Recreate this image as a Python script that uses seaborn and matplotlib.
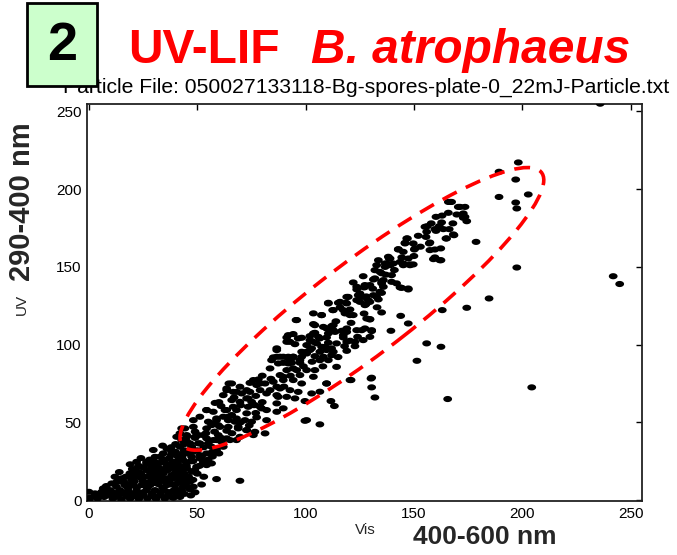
import numpy as np
import matplotlib
matplotlib.use("Agg")
import matplotlib.pyplot as plt
from matplotlib.path import Path
from matplotlib.patches import Ellipse, Rectangle
import seaborn as sns
import pandas as pd

# Particle fluorescence: (Vis 400-600 nm, UV 290-400 nm)
core_cluster = [
    (0, 0), (0, 1.3), (0, 5.3), (2, 2.1), (2.8, 4.3), (5.9, 5.3), (7.4, 6.4), (6.6, 7.5),
    (9.7, 6.4), (10.5, 10.7), (12.7, 8.6), (14.3, 6.4), (16.6, 9.6), (18.1, 6), (20.5, 9.6),
    (22, 6), (24.3, 9.6), (26.6, 6.4), (28.2, 9.6), (30.5, 6.4), (32, 10.3), (35.1, 6),
    (35.9, 9.6), (38.9, 6), (39.7, 9.6), (42.8, 6.4), (43.5, 8.6), (46.6, 6.9), (48.2, 8.6),
    (9.7, 3.2), (13.5, 3.2), (17.4, 2.6), (21.2, 2.6), (25.1, 3.2), (28.9, 2.6), (32.8, 3.2),
    (36.6, 3.2), (40.5, 4.3), (4, 1), (7, 2), (11, 1), (15, 0.5), (19, 1), (23, 0.8), (27, 1),
    (31, 0.8), (35, 1), (39, 1.5), (8, 9), (11, 5), (13, 12), (15.1, 14), (19.7, 12.9),
    (24.3, 14), (28.9, 13.3), (32.8, 12.9), (37.4, 12.9), (42, 12.9), (46.6, 11.8), (15.1, 11.8),
    (17, 15), (20, 16), (24, 17), (28, 16), (32, 15), (36, 14), (40, 18), (44, 17),
    (18.9, 17.2), (22.8, 21.4), (26.6, 19.3), (30.5, 18.2), (34.3, 17.2), (38.2, 16.1),
    (42.8, 16.1), (44.3, 14), (48.9, 19.3), (20, 20), (25, 21), (29, 21), (33, 20), (37, 20),
    (42, 22), (22, 24.6), (26.6, 24.6), (26.6, 23.6), (31.3, 22.5), (35.9, 21.4), (40.5, 20.4),
    (45.1, 20.4), (47.4, 18.2), (24, 27), (28, 26), (33, 24), (37, 27), (41, 28), (45, 24),
    (30.5, 27.8), (34.3, 30), (35.1, 25.7), (38.9, 24.6), (43.5, 25.7), (38.2, 31.1),
    (43.5, 30), (42, 34.3), (29.7, 32.2), (33, 28), (36, 33), (40, 36), (44, 32), (48, 31),
    (47.4, 27.8), (51.2, 28.9), (51.2, 26.8), (52.8, 24.6), (54.3, 22.5), (49.7, 21.4),
    (56.6, 23.6), (47.4, 34.3), (54.3, 30), (56.6, 34.3), (58.9, 32.2), (62, 34.3),
    (50.5, 36.5), (55.1, 36.5), (46.6, 36.5), (53, 34), (57, 28), (60, 30),
    (58.9, 13.5), (69.7, 12.4),
    (5, 3), (8, 4.5), (12, 2), (14, 5), (16, 4), (18, 8), (20, 4), (22, 8), (23, 3), (25, 5),
    (27, 8), (29, 4), (30, 11), (31, 2), (33, 5), (34, 8), (36, 11), (37, 5), (38, 2), (40, 7),
    (41, 11), (42, 2), (44, 4), (45, 9), (47, 3), (49, 5), (12, 15), (14, 18), (16, 12),
    (18, 10), (21, 12), (22, 15), (23, 18), (25, 12), (26, 15), (27, 11), (29, 18), (30, 15),
    (31, 12), (33, 17), (34, 14), (35, 12), (36, 19), (38, 10), (39, 14), (40, 22), (41, 16),
    (43, 19), (44, 11), (45, 22), (46, 15), (47, 25), (48, 13), (50, 17), (51, 22), (52, 10),
    (53, 15), (19, 23), (21, 19), (23, 22), (28, 23), (30, 25), (32, 21), (34, 26), (36, 23),
    (38, 29), (39, 22), (40, 31), (41, 25), (43, 28), (44, 36), (46, 30), (48, 25), (50, 32),
    (52, 28), (55, 26), (57, 31), (34, 35), (38, 34),
]

lower_band = [
    (40.5, 40.7), (45.1, 41.8), (48.9, 40.7), (52.8, 41.8), (58.9, 38.6), (63.6, 39.7),
    (68.1, 38.6), (42.8, 38.6), (42.8, 46.1), (48.2, 47.1), (54.3, 46.1), (59.7, 48.2),
    (64.3, 47.1), (68.9, 47.1), (72.8, 45), (76.6, 43.9), (55.1, 50.4), (51.2, 53.6),
    (54.3, 57.9), (58.9, 52.5), (64.3, 53.6), (68.1, 52.5), (63.6, 57.9), (68.1, 57.9),
    (72.8, 55.8), (82, 51.4), (79.7, 59), (75.9, 61.1), (73.5, 65.4), (69.7, 63.2),
    (65.9, 64.3), (62, 67.5), (63.6, 71.8), (65.9, 75), (68.1, 69.6), (72.8, 70.7),
    (75.9, 77.2), (79, 75), (82, 68.6), (87.4, 66.4), (86.7, 72.9), (45, 38), (49, 40),
    (44.3, 46.1), (45.1, 40.7), (50.5, 41.8), (54.3, 39.7), (51.2, 36.5), (57.4, 38.6),
    (61.2, 37.5), (65.1, 38.6), (69.7, 40.7), (48.2, 51.4), (56.6, 48.2), (60.5, 47.1),
    (68.9, 46.1), (72.8, 45), (63.6, 44.6), (81.3, 42.9), (75.9, 41.8), (42, 42.9),
    (54.3, 57.9), (57.4, 56.8), (62.8, 57.9), (66.6, 60), (65.9, 54.7), (62, 53.6),
    (58.9, 51.4), (64.3, 51.4), (67.4, 50.4), (72, 51.4), (75.1, 50.4), (77.4, 53.2),
    (72.8, 65.4), (75.1, 63.2), (76.6, 61.1), (79, 60), (73.5, 60), (82, 57.9),
    (86.7, 62.2), (89.7, 59), (86.7, 56.8), (64.6, 75), (69.7, 72.9), (74.3, 75.4),
    (77.4, 74), (81.3, 75), (63.6, 70.7), (66.6, 69.6), (70.5, 68.6), (74.3, 69.6),
    (79, 70.7), (83.6, 70.7), (88.2, 71.8), (92.8, 70.7), (96.6, 69.6), (86.7, 67.5),
    (91.3, 66.4), (95.1, 65.4), (56.6, 49.3), (59.7, 41.8), (47.4, 34.3), (52.8, 24.6),
    (99.7, 51), (106.6, 48.7), (100.5, 51.4), (58.2, 62.5), (61, 60.5),
    (61, 40), (58, 44), (54, 43), (49, 44), (66, 43), (70, 50), (74, 48), (77, 56), (70, 61),
    (60, 63), (67, 66), (77, 67), (80, 63), (84, 78), (80, 80), (90, 73), (93, 80),
]

mid_band = [
    (78.2, 77.6), (85.1, 76.1), (89.7, 77.2), (94.3, 77.2), (98.2, 75), (88.2, 80.4),
    (83.6, 84.7), (91.3, 83.6), (95.9, 83.6), (89.7, 88.3), (93.6, 88.3), (97.4, 88.3),
    (86.7, 92.2), (92, 92.2), (94.3, 92.2), (98.2, 92.2), (100.5, 94.3), (91.3, 101.8),
    (95.1, 100.3), (84.3, 90), (87.4, 87.9), (92, 87.9), (89.7, 79.3), (97.4, 80.4),
    (103.6, 79.3), (109.7, 75), (120.5, 77.2), (100.5, 83.6), (104.3, 83.6), (94.3, 84.7),
    (97.4, 90), (93.6, 91.1), (89.7, 92.2), (86.7, 96.5), (98.2, 95.4), (102, 96.5),
    (106.6, 95.4), (112.8, 95.4), (112, 97.6), (109, 98.6), (105.1, 100.8), (102, 102.9),
    (106.6, 104), (103.6, 107.2), (110.5, 107.2), (112.8, 109.3), (117.4, 106.1),
    (119, 101.8), (122.8, 101.8), (126.6, 102.9), (129.7, 105), (96.6, 104), (92, 106.1),
    (95.9, 115.8), (103.6, 120.1), (107.4, 119), (112.8, 122.2), (117.4, 122.2), (122, 119),
    (128.2, 116.8), (130.5, 109.3), (127.4, 110.4), (123.6, 109.3), (119, 110.4),
    (112.8, 112.5), (108.2, 111.4), (104.3, 112.5), (110.5, 126.5), (115.1, 126.9),
    (119, 126.5), (119, 130.7), (123.6, 128.6), (127.4, 125.4), (106.6, 90), (110.5, 90),
    (114.3, 85.7), (85.1, 91.8), (88.2, 92.2), (92, 91.1), (94.3, 106.8), (102, 105.5),
    (105.9, 105), (109.7, 104.6), (91.3, 104.6), (98.2, 104.4), (117.4, 104.6),
    (120.5, 102.5), (103.6, 101.8), (92.8, 101.8), (110.5, 101.2), (114.3, 100.8),
    (100.5, 99.7), (107.4, 98.6), (102.8, 97.6), (122.8, 99), (86.7, 97.6), (109.7, 96.5),
    (119, 96), (100.5, 95.4), (94.3, 92.2), (104.3, 92.6), (108.2, 92.2), (112, 93.2),
    (95.6, 115.8), (103.6, 113.2), (129.7, 116.2), (112, 111.9), (109.7, 110.4),
    (116.7, 108.9), (113.6, 108.2), (119, 108.2), (125.9, 109.3), (130.5, 108.7),
    (104.3, 107.6), (107.4, 119), (110.5, 126.9), (115.9, 123.9), (112.5, 122.2),
    (120.5, 122.6), (118.2, 120.1), (120.5, 119), (115.9, 127.5), (118.7, 126.9),
    (129.7, 116.4), (135.1, 120.7), (143.9, 118.5), (147.4, 113.6), (139.4, 108.9),
    (130.5, 78.7), (130.5, 72.5), (132, 66), (121, 77.2), (111.7, 63.7), (113.3, 60.5),
    (99.7, 63.7), (102.8, 68.6), (106.6, 69.7), (109.7, 75), (130.2, 78.2),
    (99, 86), (103, 89), (108, 86), (115, 92), (118, 99), (124, 105), (114, 115), (121, 114),
    (127, 120), (133, 124),
]

upper_band = [
    (133.6, 154.3), (132.8, 151.1), (136.7, 150), (132, 147.9), (135.1, 145.9),
    (126.6, 144), (131.3, 141.9), (135.9, 141.5), (129.7, 138.3), (127, 136.8),
    (123.6, 135.5), (135.9, 137.2), (124.3, 131.8), (126.6, 130.7), (128.9, 128.6),
    (125.1, 127.5), (127.9, 126), (119.7, 130.7), (123.6, 137.2), (127.4, 138.3),
    (131.3, 131.8), (125.1, 132.9), (127.4, 137.2), (135.1, 139.4), (139.7, 140.4),
    (142, 139.4), (143.6, 136.8), (147.4, 135.5), (129.7, 127.5), (132.8, 130.7),
    (133.6, 129.1), (135.1, 133.3), (134.3, 146.8), (132, 142.6), (135.1, 140.4),
    (139.7, 144.7), (144.4, 136.5), (147.4, 136.1), (134.3, 134), (139, 151.1),
    (138.2, 156.5), (139, 155.4), (136.7, 152.2), (145.1, 152.2), (148.2, 151.6),
    (149.7, 151.6), (142.8, 161.4), (145.9, 165.5), (146.7, 168.3), (150.5, 161.9),
    (138.6, 155.4), (137.4, 152.2), (140.5, 152.2), (143.6, 153.2), (145.1, 151.1),
    (148.2, 151.1), (144.4, 156.1), (147.4, 155.4), (145.1, 159.7), (142.8, 161.2),
    (150.2, 161.2), (147, 168.3), (145.9, 165.1), (149.7, 165.1), (157.4, 160.8),
    (159.7, 161.2), (162.4, 161.9), (159.7, 156.1), (162, 154.3), (159, 155),
    (162.5, 154.3), (155.6, 169.3), (157.4, 165.7), (157.1, 165.1), (165.1, 168.3),
    (168.5, 170.4), (164.8, 168.3), (168.2, 170.9), (155.9, 172.6), (160.2, 173.2),
    (155.1, 175.8), (156.2, 176.2), (159.7, 174.3), (163.6, 174.3), (166.3, 174.3),
    (161.7, 176.2), (162.8, 178.6), (160.2, 182.2), (165.9, 184.8), (169.8, 183.7),
    (172.8, 184.4), (173.6, 182.2), (174.4, 179.4), (172.8, 181.6), (171.3, 188.6),
    (173.6, 188.6), (170.5, 188.6), (166.7, 191.8), (165.9, 191.8), (167.4, 191.8),
    (178.7, 166.1), (189.3, 211.2), (198.2, 217.2), (197, 206.2), (202.8, 196.6),
    (189.3, 195), (197, 191.4), (197.5, 187.6), (197.5, 149.6),
    (128, 131), (131, 136), (122, 140), (137, 145), (141, 148), (150, 157), (153, 163),
    (152, 170), (158, 178), (163, 183), (168, 178),
]

outliers = [
    (236, 255), (242, 144), (245, 139), (204.4, 72.5), (165.6, 65), (155.9, 100.8),
    (162.5, 98.6), (151.4, 89.6), (174.4, 123.7), (184.7, 129.7), (163.1, 122.2),
]

# Dashed gate drawn around the main spore population
gate_center = (126, 123)
gate_width = 242
gate_height = 52
gate_angle = 47.5

x_ticks = [0, 50, 100, 150, 200, 250]
y_ticks = [0, 50, 100, 150, 200, 250]

groups = [core_cluster, lower_band, mid_band, upper_band, outliers]
points = [p for g in groups for p in g]
df = pd.DataFrame(points, columns=["Vis", "UV"])

sns.set_theme(style="white")
plt.rcParams["font.family"] = ["Liberation Sans", "DejaVu Sans"]

fig = plt.figure(figsize=(6.77, 5.55), dpi=100)
ax = fig.add_axes([87 / 677, 1 - 501 / 555, (642 - 87) / 677, (501 - 104) / 555])

# flattened ellipse marker, wider than tall
t = np.linspace(0, 2 * np.pi, 40)
dot = Path(np.column_stack([np.cos(t), 0.7 * np.sin(t)]), closed=True)

sns.scatterplot(data=df, x="Vis", y="UV", ax=ax, marker=dot, s=40,
                color="black", edgecolor="none", linewidth=0, zorder=3)

gate = Ellipse(gate_center, gate_width, gate_height, angle=gate_angle,
               fill=False, edgecolor="#ff0000", linewidth=2.6,
               linestyle=(0, (4.4, 2.8)), zorder=4)
ax.add_patch(gate)

ax.set_xlim(-0.9, 255.3)
ax.set_ylim(-0.6, 254.8)
ax.set_xticks(x_ticks)
ax.set_yticks(y_ticks)
ax.set_xlabel("")
ax.set_ylabel("")
ax.tick_params(direction="in", length=4, width=1, top=True, right=True,
               labelsize=11, colors="black", pad=4)
for s in ax.spines.values():
    s.set_visible(True)
    s.set_color("#222222")
    s.set_linewidth(1.3)

# heading
fig.text(128 / 677, 1 - 63 / 555, "UV-LIF", color="#ff0000", fontsize=34.5,
         fontweight="bold", ha="left", va="baseline")
fig.text(311 / 677, 1 - 63 / 555, "B. atrophaeus", color="#ff0000", fontsize=34.5,
         fontweight="bold", fontstyle="italic", ha="left", va="baseline")
fig.text(63 / 677, 1 - 93 / 555,
         "Particle File: 050027133118-Bg-spores-plate-0_22mJ-Particle.txt",
         fontsize=15.2, color="black", ha="left", va="baseline", zorder=1)

box = Rectangle((27 / 677, 1 - 86 / 555), 70 / 677, 83 / 555, transform=fig.transFigure,
                facecolor="#ccffcc", edgecolor="black", linewidth=2, zorder=5)
fig.add_artist(box)
fig.text(62 / 677, 1 - 46 / 555, "2", fontsize=39, fontweight="bold", ha="center",
         va="center", color="black", zorder=6)

# axis labels
fig.text(22 / 677, 1 - 304 / 555, "UV", rotation=90, fontsize=11, ha="center", va="center")
fig.text(22 / 677, 1 - 202 / 555, "290-400 nm", rotation=90, fontsize=21,
         fontweight="bold", ha="center", va="center")
fig.text(365 / 677, 1 - 530 / 555, "Vis", fontsize=11, ha="center", va="center")
fig.text(485 / 677, 1 - 537 / 555, "400-600 nm", fontsize=19, fontweight="bold",
         ha="center", va="center")

fig.savefig("out.png", dpi=100)
